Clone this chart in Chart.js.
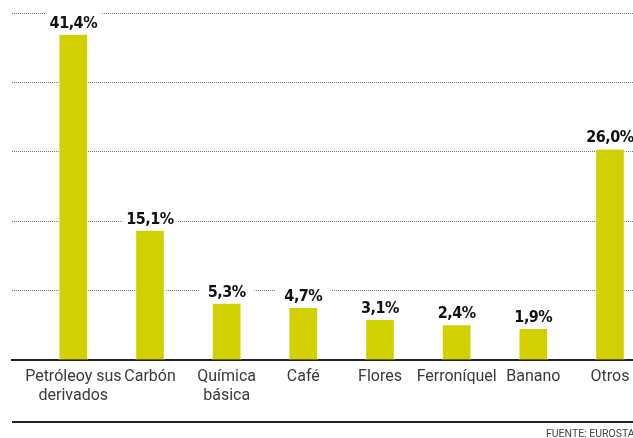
<!DOCTYPE html>
<html>
<head>
<meta charset="utf-8">
<script src="https://cdn.jsdelivr.net/npm/chart.js@4/dist/chart.umd.min.js"></script>
<style>
    html, body { margin: 0; padding: 0; background: #fff; overflow: hidden; }
    #wrap { position: relative; width: 633px; height: 438px; overflow: hidden; }
    #footLine { position: absolute; left: 12px; top: 421px; width: 621px; border-top: 2px solid #222; }
    #source { position: absolute; left: 546px; top: 427px; font: 10.5px Roboto, sans-serif; color: #444; white-space: nowrap; }
</style>
</head>
<body>
<div id="wrap">
    <canvas id="barChart" width="633" height="438"></canvas>
    <div id="footLine"></div>
    <div id="source">FUENTE: EUROSTAT</div>
</div>
<script>
const categories = [
    ['Petróleoy sus', 'derivados'],
    'Carbón',
    ['Química', 'básica'],
    'Café',
    'Flores',
    'Ferroníquel',
    'Banano',
    'Otros'
];
const shares = [41.4, 15.1, 5.3, 4.7, 3.1, 2.4, 1.9, 26.0];

// value axis of the original does not start at 0
let yMin = -2.27;
let yMax = 44.33;
let gridCount = 5;

const barColor = '#d2d000';

function fmt(v) {
    return v.toFixed(1).replace('.', ',') + '%';
}

const valueLabels = {
    id: 'valueLabels',
    afterDatasetsDraw(chart) {
        const ctx = chart.ctx;
        const meta = chart.getDatasetMeta(0);
        ctx.save();
        ctx.font = 'bold 16px "DejaVu Sans Condensed", "DejaVu Sans", sans-serif';
        if ('letterSpacing' in ctx) ctx.letterSpacing = '-0.5px';
        ctx.textAlign = 'center';
        ctx.textBaseline = 'alphabetic';
        meta.data.forEach((bar, i) => {
            const y = bar.y - 7;
            ctx.fillStyle = '#fff';
            ctx.fillRect(bar.x - 27.5, y - 15, 55, 18);
            ctx.fillStyle = '#111';
            ctx.fillText(fmt(shares[i]), bar.x, y);
        });
        ctx.restore();
    }
};

const ctx = document.getElementById('barChart').getContext('2d');
const chart = new Chart(ctx, {
    type: 'bar',
    data: {
        datasets: [{
            data: shares.map((v, i) => ({ x: i, y: v })),
            backgroundColor: barColor,
            borderColor: '#fff',
            borderWidth: { left: 1, right: 1, top: 0, bottom: 0 },
            barThickness: 29,
            base: yMin
        }]
    },
    options: {
        responsive: false,
        animation: false,
        devicePixelRatio: 1,
        layout: { padding: { left: 12, right: 0, top: 13, bottom: 0 } },
        plugins: {
            legend: { display: false },
            tooltip: { enabled: false }
        },
        scales: {
            x: {
                type: 'linear',
                offset: false,
                min: -0.8,
                max: 7.3,
                afterBuildTicks: (scale) => {
                    scale.ticks = categories.map((c, i) => ({ value: i }));
                },
                afterFit: (scale) => {
                    scale.height = 438 - 360;
                    scale.paddingLeft = 0;
                    scale.paddingRight = 0;
                },
                grid: { display: false, drawTicks: false, offset: false },
                border: { display: true, color: '#222', width: 2 },
                ticks: {
                    autoSkip: false,
                    maxRotation: 0,
                    padding: 7,
                    color: '#3a3a3a',
                    font: { family: 'Roboto', size: 16, lineHeight: 1.22 },
                    callback: (v) => categories[v]
                }
            },
            y: {
                min: yMin,
                max: yMax,
                afterBuildTicks: (scale) => {
                    const step = (yMax - yMin) / gridCount;
                    scale.ticks = [];
                    for (let k = 0; k <= gridCount; k++) {
                        scale.ticks.push({ value: yMin + k * step });
                    }
                },
                afterFit: (scale) => { scale.width = 0; },
                border: { display: false, dash: [1, 1] },
                grid: {
                    drawTicks: false,
                    color: (c) => c.index === 0 ? 'rgba(0,0,0,0)' : '#777',
                    lineWidth: 1
                },
                ticks: { display: false }
            }
        }
    },
    plugins: [valueLabels]
});
</script>
</body>
</html>
